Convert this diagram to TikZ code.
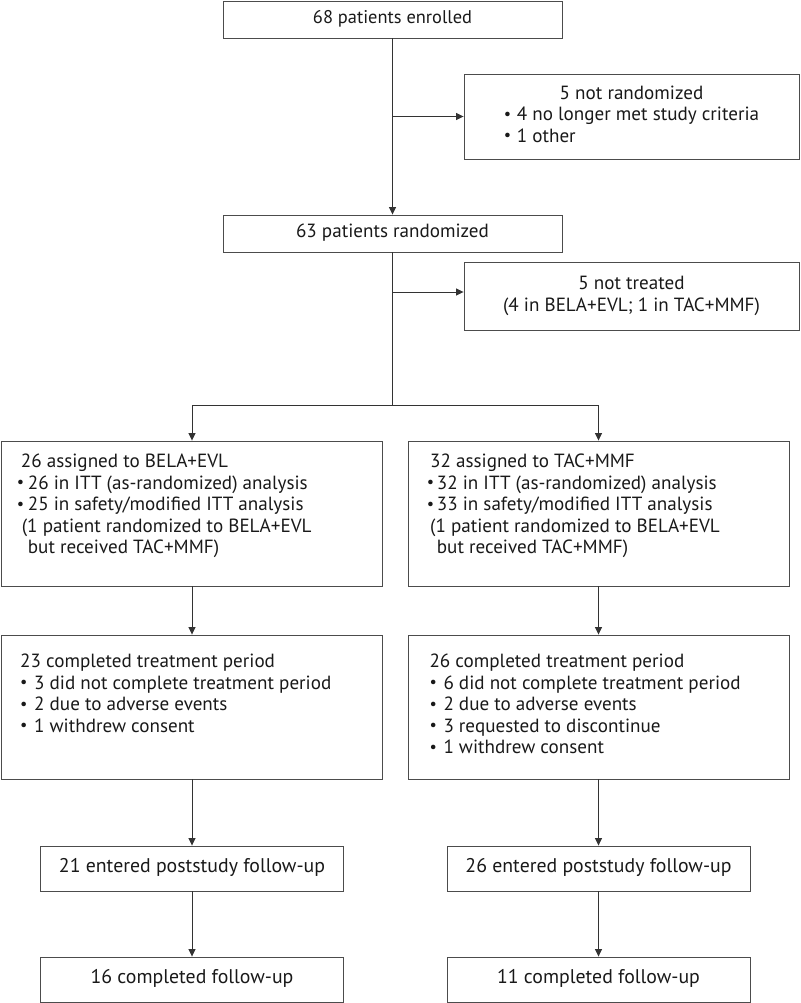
\documentclass[tikz,border=0pt]{standalone}
\usepackage{fontspec}
\setmainfont{PT Sans}
\usepackage{calc}
\usetikzlibrary{arrows.meta}
\newcommand\ctrover[2]{\makebox[\widthof{#2}]{#1}}
\newcommand\bul[1]{\makebox[#1][l]{\raisebox{0.08em}{\scalebox{0.85}{•}}}}
\begin{document}
\begin{tikzpicture}[x=1pt,y=-1pt,
  box/.style={draw=black!70,line width=0.9pt,rectangle,inner sep=0pt,
    font=\fontsize{19.1}{21.5}\selectfont,text=black!90},
  txt/.style={font=\fontsize{19.1}{21.5}\selectfont,text=black!90,inner sep=0pt,
    align=left,anchor=north west},
  small/.style={font=\fontsize{18.4}{21.5}\selectfont},
  big/.style={font=\fontsize{19.8}{21.5}\selectfont},
  conn/.style={draw=black!80,line width=0.8pt},
  arr/.style={conn,-{Triangle[length=7.5pt,width=7pt]}}]
\useasboundingbox (0,0) rectangle (800,1003);

% top part
\node[box,small,minimum width=339pt,minimum height=37pt] (b1) at (392.5,19.5) {\strut 68 patients enrolled};
\node[box,minimum width=335pt,minimum height=85pt,align=left] (nr) at (631.5,116.5)
  {\strut\ctrover{5 not randomized}{\bul{13pt}4 no longer met study criteria}\\
   \strut\bul{13pt}4 no longer met study criteria\\
   \strut\bul{13pt}1 other};
\node[box,minimum width=339pt,minimum height=37pt] (b63) at (392.5,233.5) {\strut 63 patients randomized};
\node[box,minimum width=335pt,minimum height=68pt,align=center] (nt) at (631.5,296)
  {\strut 5 not treated\\ \strut(4 in BELA+EVL; 1 in TAC+MMF)};

% arms
\node[box,minimum width=381pt,minimum height=145pt] (a1) at (192,513.5) {};
\node[box,minimum width=381pt,minimum height=145pt] (b2) at (598.5,513.5) {};
\node[box,minimum width=381pt,minimum height=144pt] (a3) at (192,707) {};
\node[box,minimum width=381pt,minimum height=144pt] (b3) at (598.5,707) {};
\node[box,big,minimum width=303pt,minimum height=45pt] (a4) at (192,868.5) {\strut 21 entered poststudy follow-up};
\node[box,big,minimum width=303pt,minimum height=45pt] (b4) at (598.5,868.5) {\strut 26 entered poststudy follow-up};
\node[box,big,minimum width=303pt,minimum height=45pt] (a5) at (192,979.5) {\strut 16 completed follow-up};
\node[box,big,minimum width=303pt,minimum height=45pt] (b5) at (598.5,979.5) {\strut 11 completed follow-up};

% texts of arm boxes
\node[txt] (ta1) at (16.7,452.5)
  {\strut\hspace*{4pt}26 assigned to BELA+EVL\\
   \strut\bul{11pt}26 in ITT (as-randomized) analysis\\
   \strut\bul{11pt}25 in safety/modified ITT analysis\\
   \strut\hspace*{5pt}(1 patient randomized to BELA+EVL\\
   \strut\hspace*{11pt}but received TAC+MMF)};
\node[txt] (tb2) at (426.7,452.5)
  {\strut\hspace*{3.3pt}32 assigned to TAC+MMF\\
   \strut\bul{10pt}32 in ITT (as-randomized) analysis\\
   \strut\bul{10pt}33 in safety/modified ITT analysis\\
   \strut\hspace*{3.3pt}(1 patient randomized to BELA+EVL\\
   \strut\hspace*{10pt}but received TAC+MMF)};
\node[txt] (ta3) at (20,652.5)
  {\strut 23 completed treatment period\\
   \strut\bul{14pt}3 did not complete treatment period\\
   \strut\bul{14pt}2 due to adverse events\\
   \strut\bul{14pt}1 withdrew consent};
\node[txt] (tb3) at (429.3,652.5)
  {\strut 26 completed treatment period\\
   \strut\bul{14pt}6 did not complete treatment period\\
   \strut\bul{14pt}2 due to adverse events\\
   \strut\bul{14pt}3 requested to discontinue\\
   \strut\bul{14pt}1 withdrew consent};

% connectors
\coordinate (j1) at (b1.south |- nr.west);
\coordinate (j2) at (392.5,292);
\coordinate (sp) at (392.5,405);
\draw[arr] (b1) -- (b63);
\draw[arr] (j1) -- (nr);
\draw[conn] (b63) -- (sp);
\draw[arr] (j2) -- (j2 -| nt.west);
\draw[arr] (sp) -| (a1);
\draw[arr] (sp) -| (b2);
\draw[arr] (a1) -- (a3);
\draw[arr] (b2) -- (b3);
\draw[arr] (a3) -- (a4);
\draw[arr] (b3) -- (b4);
\draw[arr] (a4) -- (a5);
\draw[arr] (b4) -- (b5);
\end{tikzpicture}
\end{document}
